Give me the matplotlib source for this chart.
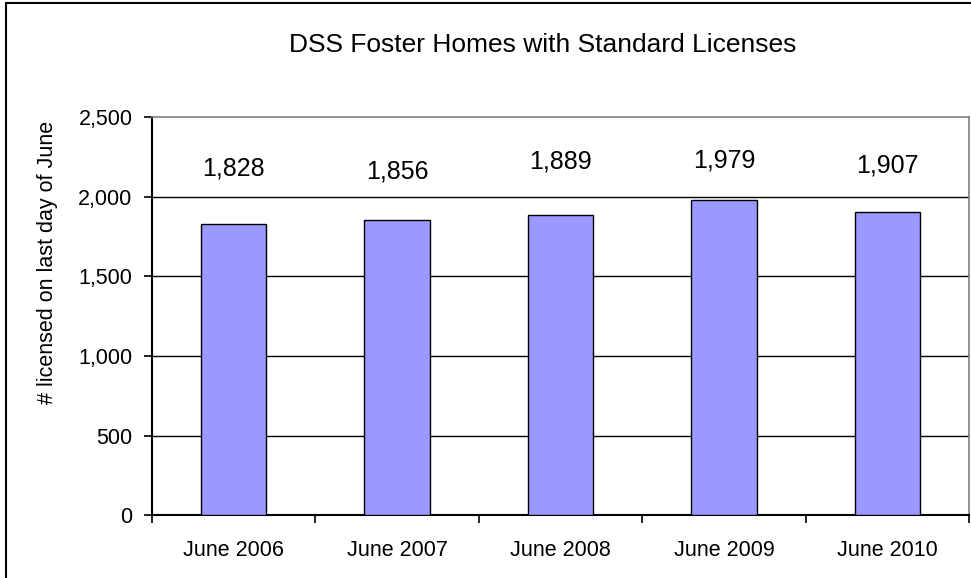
import matplotlib
matplotlib.use("Agg")
import matplotlib.pyplot as plt
from matplotlib.patches import Rectangle

categories = ["June 2006", "June 2007", "June 2008", "June 2009", "June 2010"]
values = [1828, 1856, 1889, 1979, 1907]
value_labels = ["1,828", "1,856", "1,889", "1,979", "1,907"]
ytick_values = [0, 500, 1000, 1500, 2000, 2500]
ytick_labels = ["0", "500", "1,000", "1,500", "2,000", "2,500"]

# label baseline positions (data units), as placed in the original
label_baseline = [2136, 2117, 2180, 2186, 2155]

plt.rcParams['font.family'] = ['Liberation Sans', 'DejaVu Sans']

fig = plt.figure(figsize=(9.71, 5.78), dpi=100)
fig.patch.set_facecolor('white')

# outer chart border
fig.patches.append(Rectangle((6 / 971, -0.05), 1.2, 1 - 3 / 578 + 0.05,
                             transform=fig.transFigure, fill=False,
                             edgecolor='black', linewidth=1.5, zorder=0))

ax = fig.add_axes([152 / 971, 1 - 515 / 578, (969 - 152) / 971, (515 - 117.5) / 578])
x = list(range(len(categories)))
ax.bar(x, values, width=0.4, color='#9999FF', edgecolor='black', linewidth=1.0, zorder=3)

ax.set_xlim(-0.5, len(categories) - 0.5)
ax.set_ylim(0, 2500)

ax.set_yticks(ytick_values)
ax.set_yticklabels(ytick_labels, fontsize=15.5)
for yv in ytick_values[1:-1]:
    ax.axhline(yv, color='black', linewidth=1.0, zorder=1)

ax.set_xticks(x)
ax.set_xticklabels(categories, fontsize=15.5)
ax.tick_params(axis='x', which='major', length=0, pad=18)
ax.set_xticks([i - 0.5 for i in range(len(categories) + 1)], minor=True)
ax.tick_params(axis='x', which='minor', length=6, width=1.2, direction='out', color='black')
ax.tick_params(axis='y', which='major', length=6, width=1.2, direction='out', pad=8)

for side in ['top', 'right']:
    ax.spines[side].set_color('#808080')
    ax.spines[side].set_linewidth(1.2)
for side in ['left', 'bottom']:
    ax.spines[side].set_color('black')
    ax.spines[side].set_linewidth(1.5)

for xi, lab, yb in zip(x, value_labels, label_baseline):
    ax.text(xi, yb, lab, ha='center', va='baseline', fontsize=18, color='black')

fig.text(48 / 971, 1 - 262 / 578, "# licensed on last day of June", rotation=90,
         ha='center', va='center', fontsize=15.5)
fig.text(543 / 971, 1 - 45 / 578, "DSS Foster Homes with Standard Licenses",
         ha='center', va='center', fontsize=19)

fig.savefig("out.png", dpi=100, facecolor='white')
